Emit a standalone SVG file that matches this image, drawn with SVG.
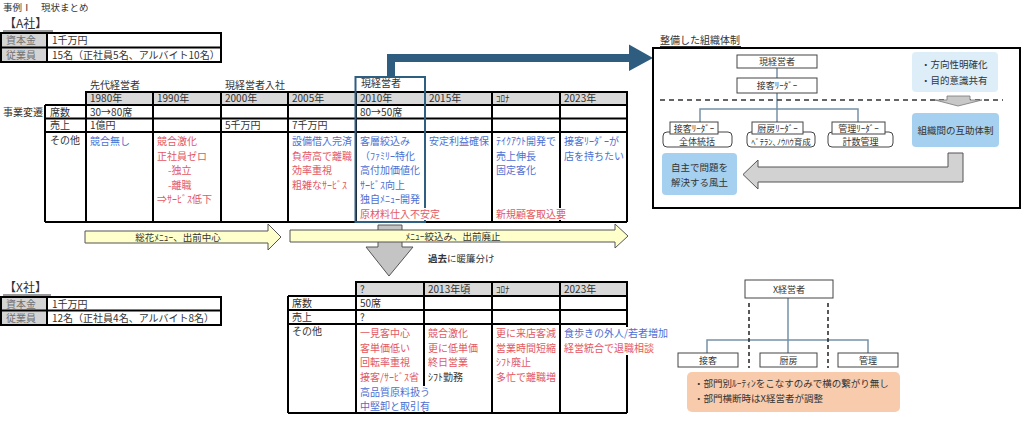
<svg xmlns="http://www.w3.org/2000/svg" width="1024" height="421" viewBox="0 0 1024 421">
<style>
text{font-family:"Noto Sans CJK JP","Noto Sans CJK SC",sans-serif;font-size:10px;fill:#333}
.s9{font-size:9px}
.s95{font-size:9.5px}
.b{fill:#4d6fd2}
.r{fill:#e35862}
.gl{fill:#707070}
.c{text-anchor:middle}
.grid{stroke:#000;stroke-width:2;fill:none}
.hdr{fill:#d9d9d9;stroke:#000;stroke-width:2}
.lab{fill:#d4d4d4}
.wh{fill:#fff}
.box{fill:#fff;stroke:#444;stroke-width:1}
.conn{stroke:#7592a8;stroke-width:1.5;fill:none}
.dash{stroke:#333;stroke-width:1.5;stroke-dasharray:5 4;fill:none}
.yarr{fill:#ffffcc;stroke:#555;stroke-width:1}
.garr{fill:#d2d2d2;stroke:#555;stroke-width:1}
.lb{fill:#a6d0ef}
</style>

<text class="s95" x="3" y="11">事例Ⅰ　現状まとめ</text>

<!-- A company header -->
<g id="a-company">
<text x="4" y="28" style="font-size:12px">【A社】</text>
<line x1="3" y1="31" x2="53" y2="31" stroke="#333" stroke-width="1"/>
<rect x="1" y="33" width="46" height="29" class="lab"/>
<rect x="1" y="33" width="220" height="29" class="grid"/>
<line x1="1" y1="47.5" x2="221" y2="47.5" class="grid"/>
<line x1="47" y1="33" x2="47" y2="62" class="grid"/>
<text class="gl" x="6" y="44">資本金</text>
<text class="gl" x="6" y="59">従業員</text>
<text x="52" y="44">1千万円</text>
<text x="52" y="59">15名（正社員5名、アルバイト10名）</text>
</g>

<!-- A history table -->
<g id="a-table">
<text x="90" y="88.5">先代経営者</text>
<text x="225" y="88.5">現経営者入社</text>
<rect x="86" y="92" width="541" height="13" class="hdr"/>
<path class="grid" d="M45 105H627M45 118.5H627M45 132H627M45 222H627M45 105V222M86 92V222M153 92V222M221 92V222M288 92V222M356 92V222M425 92V222M492 92V222M560 92V222M627 92V222"/>
<text x="3" y="116">事業変遷</text>
<text x="90" y="102">1980年</text>
<text x="157" y="102">1990年</text>
<text x="225" y="102">2000年</text>
<text x="292" y="102">2005年</text>
<text x="360" y="102">2010年</text>
<text x="429" y="102">2015年</text>
<text x="496" y="102" class="s9">ｺﾛﾅ</text>
<text x="564" y="102">2023年</text>
<text x="50" y="115.5">席数</text>
<text x="50" y="129">売上</text>
<text x="50" y="144">その他</text>
<text x="90" y="115.5">30→80席</text>
<text x="360" y="115.5">80→50席</text>
<text x="90" y="129">1億円</text>
<text x="225" y="129">5千万円</text>
<text x="292" y="129">7千万円</text>
</g>

<!-- current manager highlight + big arrow -->
<g id="current-manager">
<rect x="355.5" y="77" width="69.5" height="145" fill="none" stroke="#2f5f80" stroke-width="2"/>
<text x="361" y="87">現経営者</text>
<polygon points="387,77 387,54 629,54 629,44.5 653,58 629,71 629,62 395,62 395,77" fill="#2e5d80"/>
</g>

<g id="a-other">
<rect x="358" y="208" width="84" height="12" class="wh"/>
<rect x="494" y="208" width="74" height="12" class="wh"/>
<text x="90" y="145" class="b">競合無し</text>
<text x="157" y="145" class="r">競合激化</text>
<text x="157" y="159.5" class="r">正社員ゼロ</text>
<text x="168" y="174" class="r">-独立</text>
<text x="168" y="188.5" class="r">-離職</text>
<text x="157" y="203" class="r">⇒ｻｰﾋﾞｽ低下</text>
<text x="292" y="145" class="b">設備借入完済</text>
<text x="292" y="159.5" class="r">負荷高で離職</text>
<text x="292" y="174" class="r">効率重視</text>
<text x="292" y="188.5" class="r">粗雑なｻｰﾋﾞｽ</text>
<text x="360" y="145" class="b">客層絞込み</text>
<text x="360" y="159.5" class="b">（ﾌｧﾐﾘｰ特化</text>
<text x="360" y="174" class="b">高付加価値化</text>
<text x="360" y="188.5" class="b">ｻｰﾋﾞｽ向上</text>
<text x="360" y="203" class="b">独自ﾒﾆｭｰ開発</text>
<text x="360" y="217.5" class="r">原材料仕入不安定</text>
<text x="429" y="145" class="b">安定利益確保</text>
<text x="496" y="145" class="b">ﾃｲｸｱｳﾄ開発で</text>
<text x="496" y="159.5" class="b">売上伸長</text>
<text x="496" y="174" class="b">固定客化</text>
<text x="496" y="217.5" class="r">新規顧客取込要</text>
<text x="564" y="145" class="b">接客ﾘｰﾀﾞｰが</text>
<text x="564" y="159.5" class="b">店を持ちたい</text>
</g>

<!-- phase arrows -->
<g id="phase-arrows">
<polygon class="garr" points="378,225 402,225 402,247 413,247 389,276 366,247 378,247" style="fill:#c4c4c4"/>
<polygon class="yarr" points="85,231 268,231 268,224 281,237 268,250 268,243 85,243"/>
<text class="s95 c" x="178" y="240.5">総花ﾒﾆｭｰ、出前中心</text>
<polygon class="yarr" points="290,230 615,230 615,224 628,236 615,248 615,242 290,242"/>
<text class="s95 c" x="453" y="240">ﾒﾆｭｰ絞込み、出前廃止</text>
<text class="s95" x="428" y="262"><tspan font-weight="bold">過去</tspan>に暖簾分け</text>
</g>

<!-- org chart A -->
<g id="org-a">
<text x="660" y="44">整備した組織体制</text>
<line x1="660" y1="46.5" x2="741" y2="46.5" stroke="#333" stroke-width="1"/>
<rect x="653" y="48" width="367" height="160" fill="#fff" stroke="#000" stroke-width="2"/>
</g>
<g id="org-a-connectors">
<path class="conn" d="M777 68V78M777 93V122M700 122V109H858V122"/>
<line class="dash" x1="660" y1="100" x2="1003" y2="100"/>
</g>
<g id="node-genkeiei">
<rect x="737" y="55" width="80" height="13" class="box"/>
<text class="s9 c" x="777" y="65">現経営者</text>
</g>
<g id="node-sekkyaku-top">
<rect x="737" y="78" width="80" height="15" class="box"/>
<text class="s9 c" x="777" y="89">接客ﾘｰﾀﾞｰ</text>
</g>
<g id="node-sekkyaku">
<rect x="663" y="132" width="69" height="15" rx="4" class="box"/>
<rect x="670" y="122" width="48" height="12" class="box"/>
<text class="s9 c" x="694" y="131.5">接客ﾘｰﾀﾞｰ</text>
<text class="s9 c" x="697" y="144.5">全体統括</text>
</g>
<g id="node-chubo">
<rect x="747" y="132" width="68" height="15" rx="4" class="box"/>
<rect x="752" y="122" width="51" height="12" class="box"/>
<text class="s9 c" x="777.5" y="131.5">厨房ﾘｰﾀﾞｰ</text>
<text class="c" x="781" y="144.5" style="font-size:8.5px">ﾍﾞﾃﾗﾝ､ﾉｳﾊｳ育成</text>
</g>
<g id="node-kanri">
<rect x="828" y="132" width="65" height="15" rx="4" class="box"/>
<rect x="832" y="122" width="53" height="12" class="box"/>
<text class="s9 c" x="858.5" y="131.5">管理ﾘｰﾀﾞｰ</text>
<text class="s9 c" x="860.5" y="144.5">計数管理</text>
</g>
<g id="node-houkou">
<rect x="912" y="52" width="86" height="40" rx="4" fill="#ddeef9"/>
<text class="s95" x="921" y="67.5">・方向性明確化</text>
<text class="s95" x="921" y="83.5">・目的意識共有</text>
</g>
<polygon class="garr" points="947,96 970,96 970,100 982,100 958,106 935,100 947,100" style="fill:#c8c8c8;stroke:#777;stroke-width:0.8"/>
<g id="node-gojo">
<rect x="912" y="113" width="87" height="34" rx="4" class="lb"/>
<text class="s95 c" x="955.5" y="133.5">組織間の互助体制</text>
</g>
<polygon class="garr" points="948,153 963,153 963,182 758,182 758,189 743,174.5 758,160 758,167 948,167"/>
<g id="node-fudo">
<rect x="662" y="153" width="75" height="42" rx="4" class="lb"/>
<text class="s95 c" x="699.5" y="170.5">自主で問題を</text>
<text class="s95 c" x="699.5" y="186">解決する風土</text>
</g>

<!-- X company -->
<g id="x-company">
<text x="4" y="292" style="font-size:12px">【X社】</text>
<line x1="3" y1="295" x2="51" y2="295" stroke="#333" stroke-width="1"/>
<rect x="1" y="297" width="46" height="28" class="lab"/>
<rect x="1" y="297" width="220" height="28" class="grid"/>
<line x1="1" y1="310.5" x2="221" y2="310.5" class="grid"/>
<line x1="47" y1="297" x2="47" y2="325" class="grid"/>
<text class="gl" x="6" y="307.5">資本金</text>
<text class="gl" x="6" y="321.5">従業員</text>
<text x="52" y="307.5">1千万円</text>
<text x="52" y="321.5">12名（正社員4名、アルバイト8名）</text>
</g>

<g id="x-table">
<rect x="356" y="282" width="271" height="14" class="hdr"/>
<path class="grid" d="M288 296H627M288 310H627M288 324H627M288 413H627M288 296V413M356 282V413M424 282V413M492 282V413M560 282V413M627 282V413"/>
<rect x="358" y="386" width="74" height="25.5" class="wh"/>
<rect x="562" y="327" width="112" height="28" class="wh"/>
<text x="360" y="293">?</text>
<text x="428" y="293">2013年頃</text>
<text x="496" y="293" class="s9">ｺﾛﾅ</text>
<text x="564" y="293">2023年</text>
<text x="292" y="307">席数</text>
<text x="292" y="320.5">売上</text>
<text x="292" y="335">その他</text>
<text x="360" y="307">50席</text>
<text x="360" y="320.5">?</text>
<text x="360" y="337" class="r">一見客中心</text>
<text x="360" y="351.5" class="r">客単価低い</text>
<text x="360" y="366" class="r">回転率重視</text>
<text x="360" y="381" class="r">接客/ｻｰﾋﾞｽ省</text>
<text x="360" y="395.5" class="b">高品質原料扱う</text>
<text x="360" y="410" class="b">中堅卸と取引有</text>
<text x="428" y="337" class="r">競合激化</text>
<text x="428" y="351.5" class="r">更に低単価</text>
<text x="428" y="366" class="r">終日営業</text>
<text x="428" y="381">ｼﾌﾄ勤務</text>
<text x="496" y="337" class="r">更に来店客減</text>
<text x="496" y="351.5" class="r">営業時間短縮</text>
<text x="496" y="366" class="r">ｼﾌﾄ廃止</text>
<text x="496" y="381" class="r">多忙で離職増</text>
<text x="564" y="337" class="b">食歩きの外人/若者増加</text>
<text x="564" y="351.5" class="r">経営統合で退職相談</text>
</g>

<!-- org chart X -->
<g id="org-x-connectors">
<path class="conn" d="M788 298V353M707 353V340H868V353"/>
<path d="M749 303V368M828 303V368" stroke="#222" stroke-width="1.5" stroke-dasharray="4 3" fill="none"/>
</g>
<g id="node-xkeiei">
<rect x="745" y="280" width="88" height="18" class="box"/>
<text class="s9 c" x="789" y="292.5">X経営者</text>
</g>
<g id="node-x-sekkyaku">
<rect x="678" y="353" width="60" height="14" class="box"/>
<text class="s9 c" x="708" y="363.5">接客</text>
</g>
<g id="node-x-chubo">
<rect x="760" y="353" width="57" height="14" class="box"/>
<text class="s9 c" x="788.5" y="363.5">厨房</text>
</g>
<g id="node-x-kanri">
<rect x="838" y="353" width="60" height="14" class="box"/>
<text class="s9 c" x="868" y="363.5">管理</text>
</g>
<g id="node-x-note">
<rect x="687" y="372" width="213" height="40" rx="5" fill="#f8cbad"/>
<text class="s95" x="694" y="386.5">・部門別ﾙｰﾃｨﾝをこなすのみで横の繋がり無し</text>
<text class="s95" x="694" y="402">・部門横断時はX経営者が調整</text>
</g>
</svg>
